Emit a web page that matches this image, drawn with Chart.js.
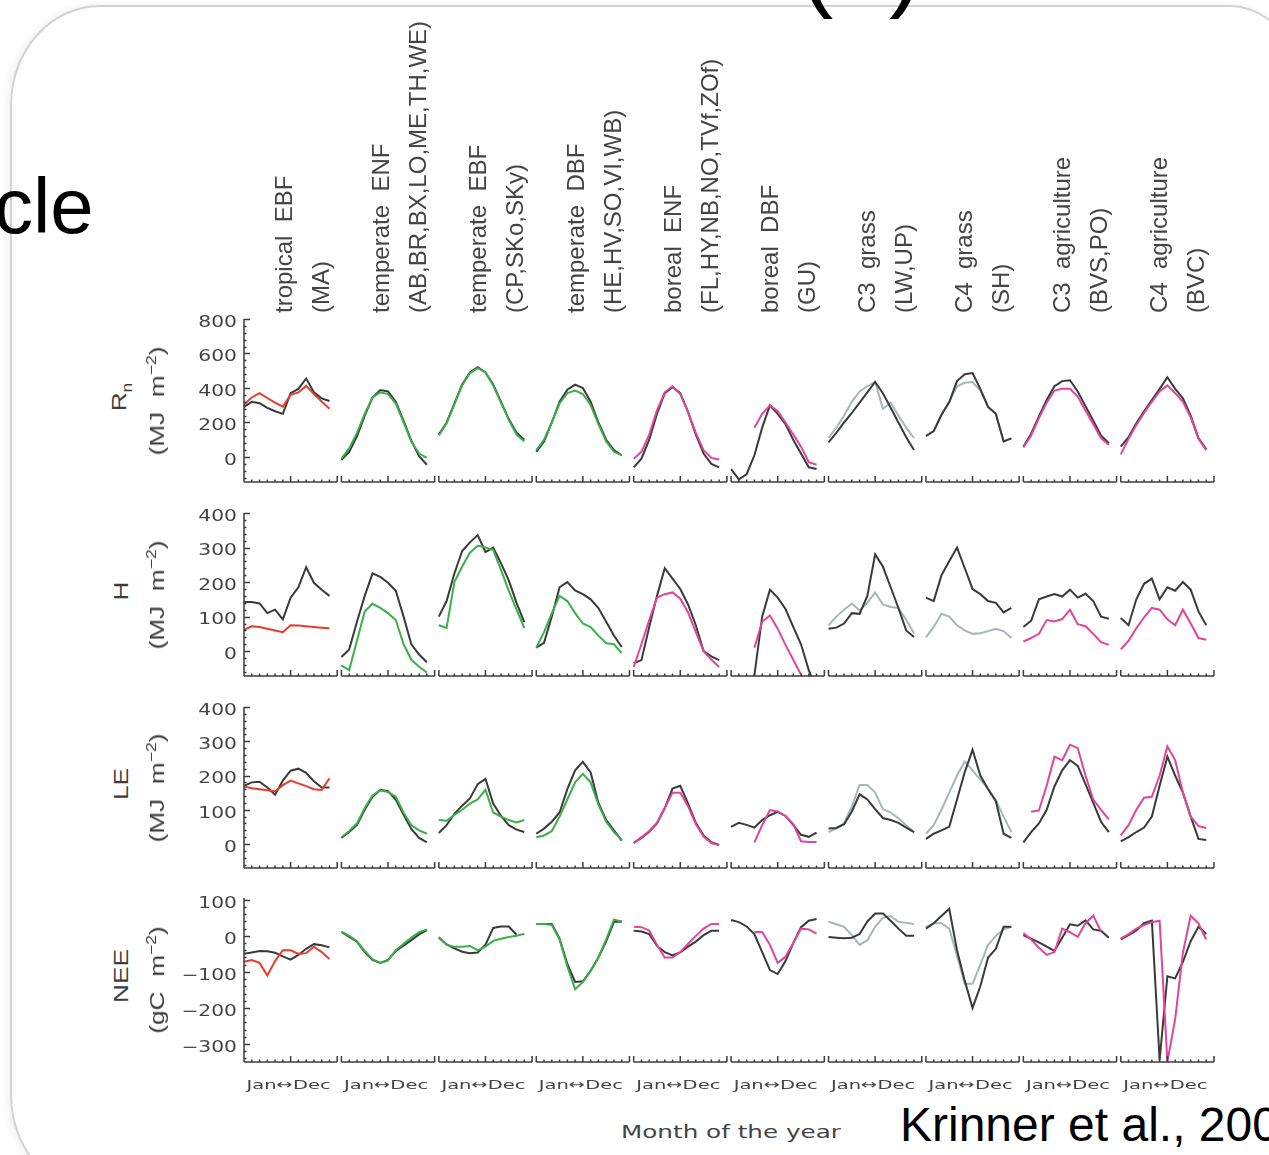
<!DOCTYPE html>
<html>
<head>
<meta charset="utf-8">
<script src="https://cdn.jsdelivr.net/npm/chart.js@4.4.1/dist/chart.umd.min.js"></script>
<style>
  html, body { margin: 0; padding: 0; background: #fff; }
  #page { position: relative; width: 1269px; height: 1155px; overflow: hidden; background: #fff; font-family: 'Liberation Sans', Arial, sans-serif; }
  #frame { position: absolute; left: 10px; top: 5px; width: 1320px; height: 1190px; border: 2px solid #d2d2d2; box-sizing: border-box;
           border-radius: 90px 100px 0 90px / 100px 170px 0 100px; box-shadow: -3px 0 8px rgba(0,0,0,0.06); }
  .big { position: absolute; color: #000; white-space: nowrap; }
  .hdr { position: absolute; top: 313px; transform-origin: 0 0; transform: rotate(-90deg); white-space: pre;
         font-size: 24px; line-height: 37px; color: #444; }
  .ytitle { position: absolute; white-space: pre; color: #3c3c3c; font-size: 21px;
            transform: translate(-50%, -50%) rotate(-90deg) scaleX(1.25); }
  .ytitle sup, .ytitle sub { font-size: 14px; }
  #xtitle { position: absolute; left: 731px; top: 1132px; transform: translate(-50%, -50%) scaleX(1.45); font-family: 'DejaVu Sans'; font-size: 17px; color: #444; white-space: nowrap; }
  canvas { position: absolute; }
</style>
</head>
<body>
<div id="page">
  <div id="frame"></div>
  <div class="big" style="left:-6px; top:161px; font-size:78px;">cle</div>
  <div class="big" style="left:800px; top:-94px; font-size:100px;">(a)</div>
  <div class="big" style="left:900px; top:1097px; font-size:48px;">Krinner et al., 2005</div>
  <div id="xtitle">Month of the year</div>
</div>
<script>
// panel (vegetation type) labels
const pftNames = ['tropical  EBF', 'temperate  ENF', 'temperate  EBF', 'temperate  DBF', 'boreal  ENF',
                  'boreal  DBF', 'C3  grass', 'C4  grass', 'C3  agriculture', 'C4  agriculture'];
const siteCodes = ['(MA)', '(AB,BR,BX,LO,ME,TH,WE)', '(CP,SKo,SKy)', '(HE,HV,SO,VI,WB)', '(FL,HY,NB,NO,TVf,ZOf)',
                   '(GU)', '(LW,UP)', '(SH)', '(BVS,PO)', '(BVC)'];
const months = [0, 1, 2, 3, 4, 5, 6, 7, 8, 9, 10, 11];
const monthLabel = 'Jan\u2194Dec';

// y tick labels per row
const rnTicks = [0, 200, 400, 600, 800];
const hTicks = [0, 100, 200, 300, 400];
const leTicks = [0, 100, 200, 300, 400];
const neeTicks = [-300, -200, -100, 0, 100];

// monthly values, one row of 12 per panel: model (black) and observations (coloured / grey)
const rnModel = [
  [290, 320, 312, 285, 265, 250, 370, 395, 455, 375, 340, 325],
  [-17, 30, 120, 240, 345, 388, 380, 320, 210, 95, 5, -45],
  [130, 200, 310, 420, 490, 520, 490, 420, 320, 220, 140, 100],
  [30, 90, 200, 320, 390, 420, 400, 320, 200, 100, 40, 10],
  [-60, -10, 100, 250, 370, 405, 370, 260, 130, 20, -40, -60],
  [-70, -130, -100, 10, 170, 300, 250, 190, 100, 20, -60, -70],
  [85, 140, 200, 255, 315, 375, 435, 370, 285, 200, 115, 40],
  [120, 150, 245, 318, 440, 480, 487, 395, 290, 250, 90, 108],
  [60, 135, 235, 330, 410, 440, 445, 380, 295, 210, 125, 80],
  [60, 115, 195, 265, 330, 395, 462, 395, 340, 240, 110, 45]
];
const rnObs = [
  [305, 345, 370, 342, 315, 292, 360, 374, 412, 365, 322, 280],
  [-10, 50, 140, 250, 345, 375, 365, 310, 200, 90, 20, -5],
  [125, 195, 305, 415, 485, 515, 490, 415, 315, 215, 130, 90],
  [40, 100, 200, 310, 370, 385, 365, 300, 190, 90, 30, 10],
  [-10, 30, 130, 270, 375, 410, 365, 260, 140, 40, -5, -15],
  [null, null, null, 170, 250, 300, 265, 200, 130, 60, -30, -45],
  [110, 170, 240, 320, 380, 410, 435, 280, 315, 240, 170, 110],
  [125, 150, 245, 318, 410, 430, 435, 385, 290, 250, 90, 108],
  [55, 125, 225, 315, 385, 395, 395, 350, 270, 190, 110, 70],
  [15, 105, 185, 255, 320, 380, 415, 370, 320, 230, 105, 40]
];
const hModel = [
  [142, 142, 138, 110, 120, 92, 155, 185, 243, 198, 178, 160],
  [-17, 5, 85, 160, 225, 215, 198, 175, 100, 20, -10, -32],
  [100, 145, 225, 290, 315, 336, 287, 300, 255, 205, 140, 84],
  [10, 24, 100, 185, 200, 176, 165, 150, 125, 85, 45, 12],
  [-35, -26, 70, 160, 240, 210, 180, 135, 75, 0, -15, -26],
  [-100, -100, -100, -70, 100, 178, 155, 122, 70, 20, -55, -110],
  [65, 68, 80, 110, 108, 160, 280, 245, 185, 125, 60, 41],
  [155, 145, 220, 260, 300, 240, 180, 165, 145, 140, 112, 125],
  [70, 88, 150, 158, 165, 158, 178, 155, 166, 145, 100, 94],
  [96, 75, 150, 195, 210, 150, 185, 175, 200, 178, 115, 75]
];
const hObs = [
  [62, 72, 70, 65, 60, 55, 75, 74, 72, 70, 68, 66],
  [-41, -55, 30, 115, 137, 125, 110, 90, 20, -25, -45, -62],
  [75, 67, 200, 245, 285, 305, 300, 293, 235, 175, 120, 67],
  [10, 55, 110, 160, 145, 110, 80, 70, 45, 23, 20, -6],
  [-46, 20, 90, 155, 165, 170, 152, 112, 55, 0, -25, -46],
  [null, null, null, 10, 85, 103, 65, 18, -25, -68, -110, null],
  [75, 100, 120, 138, 118, 140, 170, 135, 128, 125, 90, 52],
  [40, 70, 108, 100, 75, 60, 50, 52, 58, 65, 58, 38],
  [28, 38, 50, 90, 86, 93, 120, 78, 72, 50, 26, 18],
  [5, 30, 66, 98, 125, 120, 92, 75, 120, 80, 38, 33]
];
const leModel = [
  [170, 180, 182, 165, 144, 185, 214, 220, 208, 183, 165, 165],
  [18, 35, 56, 100, 138, 158, 154, 130, 85, 44, 18, 5],
  [32, 55, 88, 112, 133, 175, 190, 118, 82, 55, 42, 35],
  [30, 45, 65, 92, 160, 215, 240, 209, 120, 70, 40, 10],
  [3, 18, 36, 60, 105, 162, 170, 118, 62, 25, 5, -3],
  [50, 62, 56, 48, 70, 84, 94, 82, 56, 27, 21, 33],
  [45, 47, 58, 95, 145, 130, 102, 76, 70, 62, 48, 35],
  [15, 30, 40, 50, 130, 210, 275, 200, 160, 125, 30, 18],
  [5, 35, 60, 100, 168, 215, 245, 228, 175, 120, 65, 35],
  [8, 20, 35, 48, 80, 170, 255, 200, 150, 80, 15, 12]
];
const leObs = [
  [168, 163, 160, 157, 154, 172, 185, 177, 169, 160, 158, 192],
  [20, 38, 60, 105, 142, 157, 152, 138, 92, 55, 40, 30],
  [70, 68, 85, 100, 118, 130, 158, 92, 80, 70, 63, 70],
  [20, 25, 38, 80, 130, 180, 205, 180, 115, 65, 35, 12],
  [3, 20, 38, 62, 105, 150, 150, 110, 58, 22, 3, -3],
  [null, null, null, 5, 55, 99, 95, 82, 58, 8, 6, 6],
  [35, 45, 60, 110, 172, 172, 150, 102, 92, 75, 55, 35],
  [30, 55, 100, 150, 200, 241, 215, 188, 162, 128, 80, 35],
  [null, 94, 98, 170, 255, 245, 290, 280, 200, 130, 100, 72],
  [25, 55, 100, 135, 138, 200, 285, 245, 150, 80, 52, 47]
];
const neeModel = [
  [-50, -46, -42, -43, -47, -57, -66, -53, -36, -23, -26, -32],
  [11, -3, -16, -45, -67, -75, -67, -42, -27, -12, 4, 16],
  [-5, -24, -35, -44, -48, -46, -25, 22, 26, 26, 3, null],
  [33, 33, 33, -8, -78, -128, -126, -97, -60, -15, 39, 39],
  [14, 12, 5, -28, -45, -54, -46, -30, -16, 2, 14, 14],
  [44, 38, 26, 5, -45, -95, -106, -70, -20, 24, 42, 47],
  [-3, -5, -7, -5, 5, 40, 62, 62, 42, 20, 0, 0],
  [20, 35, 55, 75, -40, -125, -200, -140, -60, -36, 25, 25],
  [2, -8, -18, -30, -42, -5, 32, 28, 43, 18, 14, -5],
  [-10, 2, 15, 35, 42, -345, -112, -118, -72, -15, 25, 5]
];
const neeObs = [
  [-72, -67, -75, -110, -70, -40, -40, -50, -48, -30, -45, -64],
  [12, 0, -15, -42, -65, -75, -68, -40, -22, -5, 10, 18],
  [-3, -25, -30, -30, -28, -40, -30, -14, -8, -3, 0, 6],
  [33, 33, 30, -10, -85, -148, -128, -98, -60, -10, 45, 40],
  [25, 24, 15, -25, -60, -60, -45, -22, 0, 20, 33, 33],
  [null, null, null, 11, 11, -25, -75, -58, -20, 20, 18, 6],
  [39, 32, 25, 2, -25, -12, 25, 50, 55, 39, 36, 33],
  [25, 35, 35, 20, -55, -133, -133, -80, -25, 0, 18, 25],
  [8, -10, -33, -53, -45, 20, 10, -3, 35, 56, 12, null],
  [-8, 5, 20, 30, 38, 42, -350, -231, -46, 56, 35, -10]
];

// styling (not data)
const obsColors = ['#ec3b2b', '#3aaf4a', '#3aaf4a', '#3aaf4a', '#e2449a',
                   '#e2449a', '#a9b5b9', '#a9b5b9', '#e2449a', '#e2449a'];
const MODEL_COLOR = '#3a3a3a';
const AXIS_COLOR = '#3c3c3c';
const TEXT_COLOR = '#444';
const PITCH = 12.54;          // x units between panel starts (12 = one panel)
const X_MAX = 9 * PITCH + 12;

const rows = [
  { model: rnModel, obs: rnObs, ticks: rnTicks, min: -145, max: 800, top: 319, bottom: 482,
    title: 'R<sub>n</sub>', unit: '(MJ  m<sup>\u22122</sup>)' },
  { model: hModel, obs: hObs, ticks: hTicks, min: -72, max: 400, top: 513, bottom: 676,
    title: 'H', unit: '(MJ  m<sup>\u22122</sup>)' },
  { model: leModel, obs: leObs, ticks: leTicks, min: -70, max: 400, top: 707, bottom: 868,
    title: 'LE', unit: '(MJ  m<sup>\u22122</sup>)' },
  { model: neeModel, obs: neeObs, ticks: neeTicks, min: -350, max: 105, top: 898, bottom: 1062,
    title: 'NEE', unit: '(gC  m<sup>\u22122</sup>)' }
];

const CANVAS_LEFT = 150;
const AXIS_LEFT = 244;
const AXIS_RIGHT = 1214;
const PAD = 12;

// axis drawing: left y axis with inward ticks, and one bracketed x axis per panel
const figAxes = {
  id: 'figAxes',
  afterDraw(chart, args, opts) {
    const { ctx, chartArea: a, scales: { x, y } } = chart;
    const vals = y.ticks.map(t => t.value);
    const step = vals[1] - vals[0];
    const minor = step / 5;
    ctx.save();
    ctx.strokeStyle = AXIS_COLOR;
    ctx.lineWidth = 1.5;
    ctx.beginPath();
    ctx.moveTo(a.left, a.top);
    ctx.lineTo(a.left, a.bottom);
    for (let v = Math.ceil(y.min / minor) * minor; v <= y.max; v += minor) {
      const py = Math.round(y.getPixelForValue(v)) + 0.5;
      const len = vals.includes(v) ? 6 : 2.5;
      ctx.moveTo(a.left, py);
      ctx.lineTo(a.left + len, py);
    }
    for (let i = 0; i < pftNames.length; i++) {
      const s = i * PITCH;
      const x0 = x.getPixelForValue(s);
      const x1 = x.getPixelForValue(s + 12);
      const yb = a.bottom;
      ctx.moveTo(x0, yb); ctx.lineTo(x1, yb);
      for (let m = 0; m <= 12; m++) {
        const px = x.getPixelForValue(s + m);
        const len = (m === 0 || m === 6 || m === 12) ? 6 : 2.5;
        ctx.moveTo(px, yb); ctx.lineTo(px, yb - len);
      }
    }
    ctx.stroke();

    ctx.fillStyle = TEXT_COLOR;
    ctx.font = '15px "DejaVu Sans"';
    ctx.textAlign = 'right';
    ctx.textBaseline = 'middle';
    y.ticks.forEach(t => {
      ctx.save();
      ctx.translate(a.left - 7, y.getPixelForValue(t.value) + 4);
      ctx.scale(1.35, 1);
      ctx.fillText(String(t.value).replace('-', '\u2212'), 0, 0);
      ctx.restore();
    });
    if (opts.monthLabels) {
      ctx.textAlign = 'center';
      ctx.font = '13px "DejaVu Sans"';
      for (let i = 0; i < pftNames.length; i++) {
        ctx.save();
        ctx.translate(x.getPixelForValue(i * PITCH + 6) - 2, a.bottom + 24);
        ctx.scale(1.5, 1);
        ctx.fillText(monthLabel, 0, 0);
        ctx.restore();
      }
    }
    ctx.restore();
  }
};

const page = document.getElementById('page');

rows.forEach((row, r) => {
  const last = r === rows.length - 1;
  const padBottom = last ? 52 : PAD;
  const canvas = document.createElement('canvas');
  const w = AXIS_RIGHT + 6 - CANVAS_LEFT;
  const h = row.bottom - row.top + PAD + padBottom;
  canvas.width = w;
  canvas.height = h;
  canvas.style.width = w + 'px';
  canvas.style.height = h + 'px';
  canvas.style.left = CANVAS_LEFT + 'px';
  canvas.style.top = (row.top - PAD) + 'px';
  page.appendChild(canvas);

  const datasets = [];
  row.model.forEach((vals, i) => {
    const grey = obsColors[i] === '#a9b5b9';
    datasets.push({
      data: months.map(m => ({ x: i * PITCH + m, y: row.obs[i][m] })),
      borderColor: obsColors[i],
      order: grey ? 1 : 0
    });
    datasets.push({
      data: months.map(m => ({ x: i * PITCH + m, y: vals[m] })),
      borderColor: MODEL_COLOR,
      order: grey ? 0 : 1
    });
  });

  new Chart(canvas, {
    type: 'line',
    data: { datasets },
    options: {
      responsive: false,
      animation: false,
      devicePixelRatio: 1,
      layout: { padding: { top: PAD, bottom: padBottom, left: 0, right: 6 } },
      elements: {
        line: { borderWidth: 2, tension: 0, spanGaps: false },
        point: { radius: 0 }
      },
      plugins: {
        legend: { display: false },
        tooltip: { enabled: false },
        figAxes: { monthLabels: last }
      },
      scales: {
        x: { type: 'linear', min: 0, max: X_MAX, display: false },
        y: {
          min: row.min, max: row.max,
          afterBuildTicks: s => { s.ticks = row.ticks.map(v => ({ value: v })); },
          afterFit: s => { s.width = AXIS_LEFT - CANVAS_LEFT; },
          grid: { display: false, drawTicks: false },
          border: { display: false },
          ticks: { display: false }
        }
      }
    },
    plugins: [figAxes]
  });

  // row titles (rotated)
  const yMid = (row.top + row.bottom) / 2;
  const t1 = document.createElement('div');
  t1.className = 'ytitle';
  t1.style.left = '121px';
  t1.style.top = (yMid - 4) + 'px';
  t1.innerHTML = row.title;
  page.appendChild(t1);
  const t2 = document.createElement('div');
  t2.className = 'ytitle';
  t2.style.left = '156px';
  t2.style.top = yMid + 'px';
  t2.innerHTML = row.unit;
  page.appendChild(t2);
});

// column headers (rotated, two lines each)
pftNames.forEach((name, i) => {
  const d = document.createElement('div');
  d.className = 'hdr';
  d.style.left = (AXIS_LEFT + 97.2 * i + 21) + 'px';
  d.textContent = name + '\n' + siteCodes[i];
  page.appendChild(d);
});
</script>
</body>
</html>
